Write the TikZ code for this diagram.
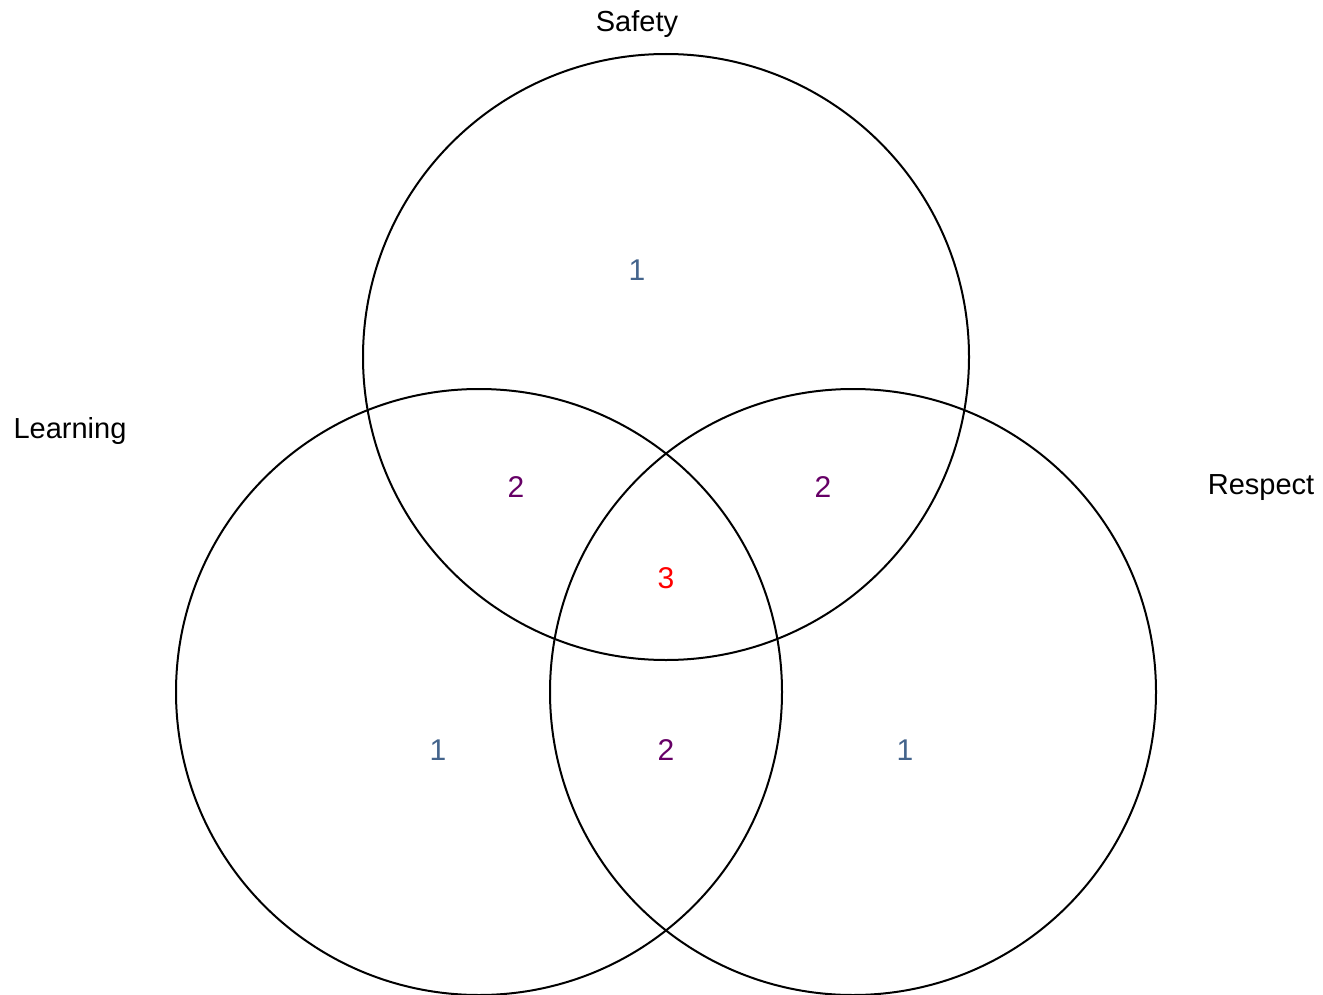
\documentclass[tikz,border=0pt]{standalone}
\usepackage{fontspec}
\setmainfont{Liberation Sans}
\definecolor{onecol}{RGB}{68,100,140}
\definecolor{twocol}{RGB}{102,0,102}
\definecolor{threecol}{RGB}{255,0,0}
\begin{document}
\begin{tikzpicture}[x=0.5pt,y=-0.5pt,
  venn/.style={draw=black, line width=1pt, circle, inner sep=0pt, minimum size=303pt},
  lbl/.style={font=\fontsize{14.5pt}{16pt}\selectfont, text=black, inner sep=0pt},
  num/.style={font=\fontsize{15pt}{17pt}\selectfont, inner sep=0pt}]
\useasboundingbox (0,0) rectangle (1323,995);
\node[venn] (top) at (666,357) {};
\node[venn] (left) at (479,692) {};
\node[venn] (right) at (853,692) {};
\node[lbl] (tsafety) at (637,24) {Safety};
\node[lbl] (tlearning) at (70,431) {Learning};
\node[lbl] (trespect) at (1261,488) {Respect};
\node[num, text=onecol] (n1a) at (637,270) {1};
\node[num, text=twocol] (n2a) at (516,487) {2};
\node[num, text=twocol] (n2b) at (823,487) {2};
\node[num, text=threecol] (n3) at (666,578) {3};
\node[num, text=onecol] (n1b) at (438,750) {1};
\node[num, text=twocol] (n2c) at (666,750) {2};
\node[num, text=onecol] (n1c) at (905,750) {1};
\end{tikzpicture}
\end{document}
